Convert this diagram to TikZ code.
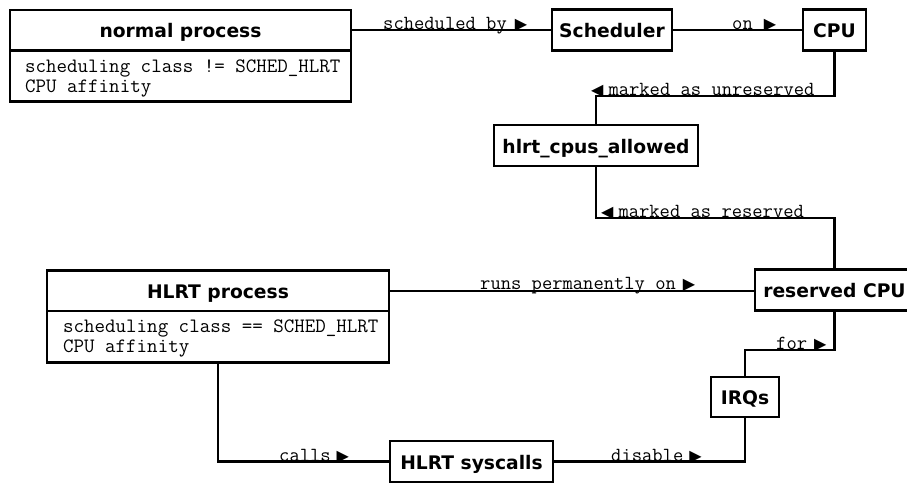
\documentclass[tikz,border=0pt]{standalone}
\usepackage{fontspec}
\newfontfamily\hdfont{DejaVu Sans}
\newfontfamily\symf{DejaVu Sans}
\newcommand\rtri{{\symf\fontsize{16}{16}\selectfont ▶}}
\newcommand\ltri{{\symf\fontsize{16}{16}\selectfont ◀}}
\begin{document}
\begin{tikzpicture}[x=1pt,y=-1pt,
  hdbox/.style={draw, line width=2.6pt, inner sep=0pt, outer sep=0pt,
    font=\hdfont\bfseries\fontsize{18.7}{20}\selectfont,
    text height=18.5pt, text depth=3.5pt},
  bodybox/.style={draw, line width=2.6pt, inner sep=0pt, outer sep=0pt, anchor=north},
  monotext/.style={inner sep=0pt, anchor=base west,
    font=\ttfamily\fontsize{20.4}{20}\selectfont},
  lbl/.style={inner sep=0pt, anchor=base west,
    font=\ttfamily\fontsize{20}{20}\selectfont},
  conn/.style={line width=2.2pt}]
\useasboundingbox (0,0) rectangle (907,482);

% normal process
\node[hdbox, minimum width=341pt, minimum height=40.5pt] (nph) at (180.5,30.25) {normal process};
\node[bodybox, minimum width=341pt, minimum height=51pt] (npb) at (nph.south) {};
\node[monotext] (npt1) at (25,72.7) {scheduling class != SCHED\_HLRT};
\node[monotext] (npt2) at (25,92.7) {CPU affinity};

% top row
\node[hdbox, minimum width=120pt, minimum height=41pt] (sched) at (612,30) {Scheduler};
\node[hdbox, minimum width=63pt, minimum height=41pt] (cpu) at (834.5,30) {CPU};

% hlrt_cpus_allowed
\node[hdbox, minimum width=204pt, minimum height=41pt] (hca) at (596,145.5) {hlrt\_cpus\_allowed};

% HLRT process
\node[hdbox, minimum width=342pt, minimum height=40.5pt] (hph) at (218,290.75) {HLRT process};
\node[bodybox, minimum width=342pt, minimum height=51.5pt] (hpb) at (hph.south) {};
\node[monotext] (hpt1) at (63,332.7) {scheduling class == SCHED\_HLRT};
\node[monotext] (hpt2) at (63,352.7) {CPU affinity};

% reserved CPU, IRQs, syscalls
\node[hdbox, minimum width=159pt, minimum height=41.5pt] (rcpu) at (834.5,290) {reserved CPU};
\node[hdbox, minimum width=68pt, minimum height=40pt] (irq) at (745,397) {IRQs};
\node[hdbox, minimum width=163pt, minimum height=41pt] (sys) at (471.5,461.5) {HLRT syscalls};

% bend coordinates
\coordinate (b1) at (596,96);
\coordinate (b2) at (834.5,218);
\coordinate (b3) at (745,350);

% connectors
\draw[conn] (nph.east) -- (nph.east -| sched.west);
\draw[conn] (sched.east) -- (cpu.west);
\draw[conn] (cpu.south) |- (b1) -- (hca.north);
\draw[conn] (hca.south) |- (b2) -- (rcpu.north);
\draw[conn] (hph.east) -- (hph.east -| rcpu.west);
\draw[conn] (rcpu.south) |- (b3) -- (irq.north);
\draw[conn] (hpb.south) |- (sys.west);
\draw[conn] (sys.east) -| (irq.south);

% labels
\node[lbl] (l1) at (383,29) {scheduled by\hspace{8pt}\rtri};
\node[lbl] (l2) at (732,29) {on\hspace{11pt}\rtri};
\node[lbl] (l3) at (591,95) {\ltri\hspace{5pt}marked as unreserved};
\node[lbl] (l4) at (601,217) {\ltri\hspace{5pt}marked as reserved};
\node[lbl] (l5) at (480,289.5) {runs permanently on\hspace{7pt}\rtri};
\node[lbl] (l6) at (776,349) {for\hspace{7pt}\rtri};
\node[lbl] (l7) at (279,461) {calls\hspace{6pt}\rtri};
\node[lbl] (l8) at (611,461) {disable\hspace{6pt}\rtri};
\end{tikzpicture}
\end{document}
